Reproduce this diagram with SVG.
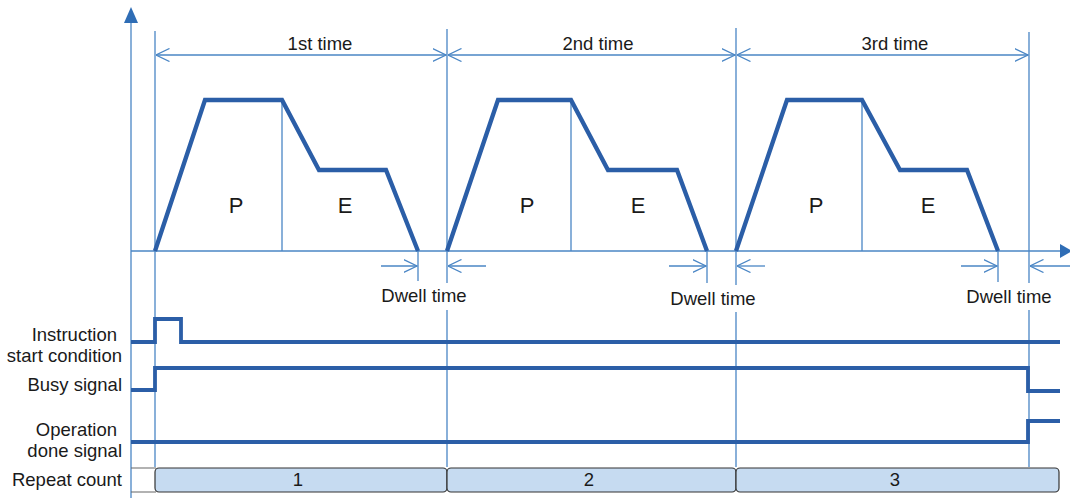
<svg xmlns="http://www.w3.org/2000/svg" width="1070" height="498" viewBox="0 0 1070 498">
<style>
.thin{stroke:#4a86c5;stroke-width:1.3;fill:none}
.thick{stroke:#2b5ea7;stroke-width:4.3;fill:none;stroke-linejoin:miter}
.sig{stroke:#2b5ea7;stroke-width:3.8;fill:none}
.dim{stroke:#4a86c5;stroke-width:1.3;fill:none;marker-start:url(#oa);marker-end:url(#oa)}
.one{stroke:#4a86c5;stroke-width:1.3;fill:none;marker-end:url(#oa)}
text{font-family:"Liberation Sans",Arial,sans-serif;fill:#1a1a1a;font-size:18.5px}
.c{text-anchor:middle}
.r{text-anchor:end}
.pe{font-size:22px;text-anchor:middle}
.box{fill:#c6dbf1;stroke:#333;stroke-width:1.2}
.grid{stroke:#666;stroke-width:1.2;fill:none}
</style>
<defs>
<marker id="oa" viewBox="0 0 14 14" refX="13.5" refY="7" markerWidth="14" markerHeight="14" markerUnits="userSpaceOnUse" orient="auto-start-reverse">
<path d="M0,0.5 L13.5,7 L0,13.5" fill="none" stroke="#4a86c5" stroke-width="1.3"/>
</marker>
</defs>
<g id="axes">
<line x1="131" y1="20" x2="131" y2="498" class="thin" stroke="#2f6db5"/>
<polygon points="131,7 124,23 138,23" fill="#2f6db5"/>
<line x1="131" y1="251" x2="1060" y2="251" class="thin"/>
<polygon points="1072,251 1060,244 1060,258" fill="#2f6db5"/>
</g>
<g id="connectors">
<line x1="155" y1="31" x2="155" y2="467" class="thin"/>
<path d="M447,29 V283 M447,310 V467" class="thin"/>
<path d="M736,28 V285 M736,312 V467" class="thin"/>
<path d="M1029,32 V283 M1029,310 V467" class="thin"/>
<line x1="282" y1="100" x2="282" y2="251" class="thin"/>
<line x1="571" y1="100" x2="571" y2="251" class="thin"/>
<line x1="862" y1="100" x2="862" y2="251" class="thin"/>
<line x1="418" y1="251" x2="418" y2="281" class="thin"/>
<line x1="707" y1="251" x2="707" y2="283" class="thin"/>
<line x1="998" y1="251" x2="998" y2="282" class="thin"/>
<line x1="156" y1="55" x2="446" y2="55" class="dim"/>
<line x1="448" y1="55" x2="735" y2="55" class="dim"/>
<line x1="737" y1="55" x2="1028" y2="55" class="dim"/>
<line x1="381" y1="266" x2="417" y2="266" class="one"/>
<line x1="486" y1="266" x2="448" y2="266" class="one"/>
<line x1="669" y1="266" x2="706" y2="266" class="one"/>
<line x1="765" y1="266" x2="737" y2="266" class="one"/>
<line x1="961" y1="266" x2="997" y2="266" class="one"/>
<line x1="1070" y1="266" x2="1030" y2="266" class="one"/>
</g>
<g id="profile1">
<polyline points="155,251 205,100 282,100 319,170 386,170 418,251" class="thick"/>
<text x="236" y="213" class="pe">P</text>
<text x="345" y="213" class="pe">E</text>
</g>
<g id="profile2">
<polyline points="447,251 498,100 571,100 608,170 677,170 707,251" class="thick"/>
<text x="527" y="213" class="pe">P</text>
<text x="638" y="213" class="pe">E</text>
</g>
<g id="profile3">
<polyline points="736,251 787,100 862,100 900,170 967,170 998,251" class="thick"/>
<text x="816" y="213" class="pe">P</text>
<text x="928" y="213" class="pe">E</text>
</g>
<g id="labels">
<text x="320" y="50" class="c">1st time</text>
<text x="598" y="50" class="c">2nd time</text>
<text x="895" y="50" class="c">3rd time</text>
<text x="424" y="302" class="c">Dwell time</text>
<text x="713" y="305" class="c">Dwell time</text>
<text x="1009" y="303" class="c">Dwell time</text>
<text x="117" y="341" class="r">Instruction</text>
<text x="122" y="362" class="r">start condition</text>
<text x="122" y="391" class="r">Busy signal</text>
<text x="117" y="436" class="r">Operation</text>
<text x="122" y="457" class="r">done signal</text>
<text x="122" y="486" class="r">Repeat count</text>
</g>
<g id="signal-start">
<polyline points="131,342 155,342 155,319 181,319 181,342 1060,342" class="sig"/>
</g>
<g id="signal-busy">
<polyline points="131,390 155,390 155,368 1028,368 1028,391 1060,391" class="sig"/>
</g>
<g id="signal-done">
<polyline points="131,442 1028,442 1028,421 1060,421" class="sig"/>
</g>
<g id="repeat">
<path d="M131,468 H156 M131,492 H156" class="grid"/>
<rect x="155" y="468" width="292" height="24" rx="4" class="box"/>
<rect x="447" y="468" width="289" height="24" rx="4" class="box"/>
<rect x="736" y="468" width="323" height="24" rx="4" class="box"/>
<text x="298" y="486" class="c">1</text>
<text x="589" y="486" class="c">2</text>
<text x="895" y="486" class="c">3</text>
</g>
</svg>
